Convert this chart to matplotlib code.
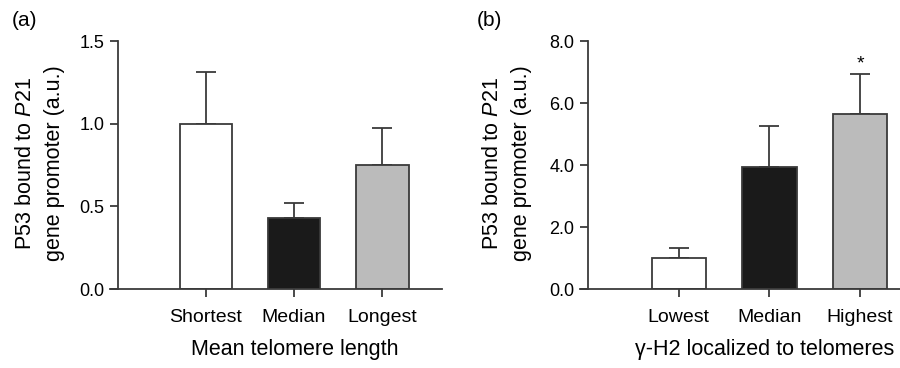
import matplotlib
matplotlib.use("Agg")
import matplotlib.pyplot as plt

# ── data ────────────────────────────────────────────────────────────────────
cats_a = ["Shortest", "Median", "Longest"]
vals_a = [1.00, 0.43, 0.75]
errs_a = [0.31, 0.09, 0.225]

cats_b = ["Lowest", "Median", "Highest"]
vals_b = [1.00, 3.93, 5.66]
errs_b = [0.32, 1.32, 1.27]
star_b = [None, None, "*"]

bar_colors = ["#ffffff", "#1a1a1a", "#bbbbbb"]
line_col = "#3a3a3a"

plt.rcParams["font.family"] = ["Liberation Sans", "DejaVu Sans"]
plt.rcParams["mathtext.fontset"] = "custom"
plt.rcParams["mathtext.it"] = "Liberation Sans:italic"
plt.rcParams["mathtext.rm"] = "Liberation Sans"

fig = plt.figure(figsize=(9, 3.68), dpi=100)
W, H = 900, 368


def px_axes(left, right, top, bottom):
    return fig.add_axes([left / W, 1 - bottom / H, (right - left) / W, (bottom - top) / H])


def draw_panel(ax, cats, vals, errs, ymax, yticks, fmt, xright):
    xs = [1, 2, 3]
    ax.bar(xs, vals, width=0.6, color=bar_colors, edgecolor=line_col, linewidth=1.3, zorder=2)
    ax.errorbar(xs, vals, yerr=[[0] * 3, errs], fmt="none", ecolor=line_col,
                elinewidth=1.3, capsize=7, capthick=1.3, zorder=1)
    ax.set_xlim(-0.09, xright)
    ax.set_ylim(0, ymax)
    ax.spines["top"].set_visible(False)
    ax.spines["right"].set_visible(False)
    ax.spines["left"].set_position(("data", 0))
    for s in ("left", "bottom"):
        ax.spines[s].set_color(line_col)
        ax.spines[s].set_linewidth(1.3)
    ax.set_yticks(yticks)
    ax.set_yticklabels([fmt.format(t) for t in yticks], fontsize=13)
    ax.set_xticks(xs)
    ax.set_xticklabels(cats, fontsize=14)
    ax.tick_params(axis="y", direction="out", length=5.8, width=1.3, color=line_col, pad=4)
    ax.tick_params(axis="x", direction="out", length=5.5, width=1.3, color=line_col, pad=9)


ylab = "P53 bound to $\\it{P21}$\ngene promoter (a.u.)"

# ── panel (a) ───────────────────────────────────────────────────────────────
ax1 = px_axes(110, 442, 41, 289)
draw_panel(ax1, cats_a, vals_a, errs_a, 1.5, [0.0, 0.5, 1.0, 1.5], "{:.1f}", 3.68)
fig.text(40 / W, 1 - 163 / H, ylab, rotation=90, ha="center", va="center",
         fontsize=15.5, linespacing=1.45)
fig.text(295 / W, 1 - 350 / H, "Mean telomere length", ha="center", va="center", fontsize=15.5)
fig.text(12 / W, 1 - 20 / H, "(a)", ha="left", va="center", fontsize=15)

# ── panel (b) ───────────────────────────────────────────────────────────────
ax2 = px_axes(580, 900, 41, 289)
draw_panel(ax2, cats_b, vals_b, errs_b, 8.0, [0.0, 2.0, 4.0, 6.0, 8.0], "{:.1f}", 3.44)
for x, v, e, s in zip([1, 2, 3], vals_b, errs_b, star_b):
    if s:
        ax2.text(x, v + e + 0.05, s, ha="center", va="bottom", fontsize=14)
fig.text(507 / W, 1 - 163 / H, ylab, rotation=90, ha="center", va="center",
         fontsize=15.5, linespacing=1.45)
fig.text(765 / W, 1 - 350 / H, "γ-H2 localized to telomeres", ha="center", va="center", fontsize=15.5)
fig.text(477 / W, 1 - 20 / H, "(b)", ha="left", va="center", fontsize=15)

fig.savefig("out.png", dpi=100)
